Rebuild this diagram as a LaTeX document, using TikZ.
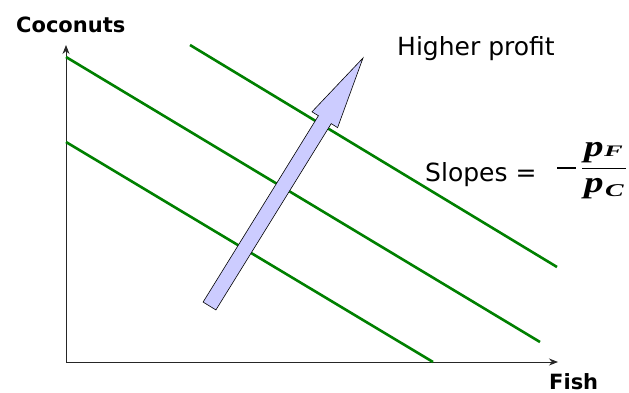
\documentclass[tikz,border=0pt]{standalone}
\usepackage{fontspec}
\setmainfont{DejaVu Sans}
\newfontfamily\serfont{Liberation Serif}
\usetikzlibrary{arrows.meta}
\definecolor{budgetgreen}{RGB}{0,128,0}
\definecolor{arrowfill}{RGB}{204,204,255}
\tikzset{
  axisline/.style={draw=black!85, line width=0.9pt, -{Stealth[length=9pt,width=7pt]}},
  budget/.style={draw=budgetgreen, line width=2.6pt},
  bigarrow/.style={fill=arrowfill, draw=black, line width=0.6pt, line join=miter},
  lbl/.style={inner sep=0pt, anchor=base west, font=\fontsize{25}{25}\selectfont},
  axlbl/.style={inner sep=0pt, anchor=base west, font=\fontsize{21}{21}\selectfont\bfseries},
  mathp/.style={inner sep=0pt, anchor=base west, font=\fontsize{30}{30}\selectfont\serfont\bfseries\itshape},
  mathsub/.style={inner sep=0pt, anchor=base west, font=\fontsize{16}{16}\selectfont\serfont\bfseries\itshape},
}
\begin{document}
\begin{tikzpicture}[x=1pt,y=-1pt]
\useasboundingbox (0,0) rectangle (629,393);
% axes
\coordinate (O) at (66,362);
\coordinate (ytip) at (66,45);
\coordinate (xtip) at (558,362);
\draw[axisline] (O) -- (ytip);
\draw[axisline] (O) -- (xtip);
% iso-profit lines
\coordinate (a1) at (66,57);   \coordinate (b1) at (540,342);
\coordinate (a2) at (66,142);  \coordinate (b2) at (433,362);
\coordinate (a3) at (190,45);  \coordinate (b3) at (557,267);
\draw[budget] (a2) -- (b2);
\draw[budget] (a1) -- (b1);
\draw[budget] (a3) -- (b3);
% big arrow
\draw[bigarrow] (203.1,302.05) -- (318.4,115.75) -- (312.0,111.8) -- (363,58)
  -- (337.6,127.6) -- (331.2,123.65) -- (215.9,309.95) -- cycle;
% labels
\node[axlbl] (coco) at (16,33) {Coconuts};
\node[axlbl] (fish) at (549,389) {Fish};
\node[lbl] (higher) at (397,56) {Higher profit};
\node[lbl] (slopes) at (425,181) {Slopes =};
% fraction
\draw[line width=2.7pt] (557,168) -- (576,168);
\draw[line width=1.4pt] (582,168.5) -- (626,168.5);
\node[mathp] (pnum) at (584,157) {\scalebox{1.3}[1]{p}};
\node[mathsub] (fnum) at (604,157) {\scalebox{1.75}[1]{F}};
\node[mathp] (pden) at (584,192.5) {\scalebox{1.3}[1]{p}};
\node[mathsub] (cden) at (605,196.5) {\scalebox{1.55}[1]{\fontsize{18}{18}\selectfont C}};
\end{tikzpicture}
\end{document}
